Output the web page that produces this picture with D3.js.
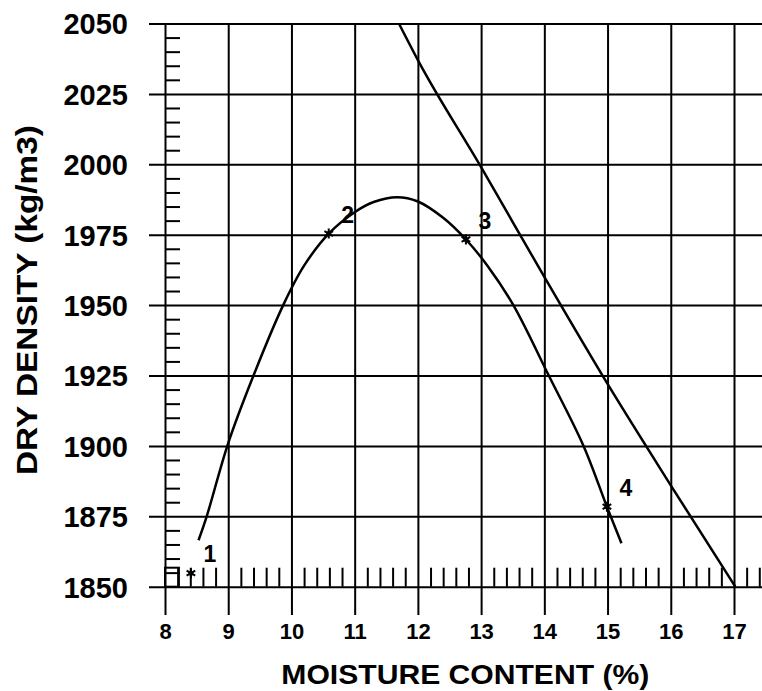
<!DOCTYPE html>
<html lang="en">
<head>
  <meta charset="UTF-8">
  <title>Compaction curve</title>
  <style>
    html, body {
      background: #fff;
      margin: 0px;
      overflow: hidden;
    }
    svg text {
      font-family: "Liberation Sans", Arial, Helvetica, sans-serif;
      font-weight: bold;
      fill: #000;
    }
  </style>
</head>
<body>
<div id="container"></div>
<script src="https://cdnjs.cloudflare.com/ajax/libs/d3/7.8.5/d3.min.js"></script>
<script>
    // x ticks / y ticks
    var xTicks = [8, 9, 10, 11, 12, 13, 14, 15, 16, 17];
    var yTicks = [1850, 1875, 1900, 1925, 1950, 1975, 2000, 2025, 2050];

    // compaction curve
    var curveMoisture = [8.53, 8.66, 9.0, 9.4, 9.87, 10.2, 10.59, 11.0, 11.3, 11.67, 12.0, 12.4, 12.76, 13.1, 13.51, 14.07, 14.62, 14.99, 15.22];
    var curveDensity  = [1866.5, 1875, 1901, 1925, 1950, 1964, 1975.4, 1983, 1986.6, 1988.3, 1986.8, 1981, 1973.3, 1964, 1950, 1925, 1900, 1878.4, 1865.4];

    // zero air voids line
    var zavMoisture = [11.7, 12, 13, 14, 15, 16, 17.02];
    var zavDensity  = [2050, 2037, 1999, 1960, 1922, 1886, 1850];

    // test points
    var pointLabels   = ["1", "2", "3", "4"];
    var pointMoisture = [8.41, 10.59, 12.76, 14.99];
    var pointDensity  = [1854.8, 1975.4, 1973.3, 1878.4];

    var width = 762, height = 691;

    var svg = d3.select('#container').append('svg')
      .attr('width', width)
      .attr('height', height);

    var x = d3.scaleLinear().domain([8, 17]).range([165, 734]);
    var y = d3.scaleLinear().domain([1850, 2050]).range([586.7, 23.5]);

    var gridLeft = 149, gridBottom = 615;

    // horizontal grid + y labels
    var yAxis = svg.append('g')
      .attr('transform', 'translate(' + gridLeft + ',0)')
      .call(d3.axisLeft(y).tickValues(yTicks).tickSize(-(width - gridLeft)).tickPadding(21).tickFormat(d3.format('d')));
    yAxis.select('.domain').remove();
    yAxis.selectAll('.tick line').attr('stroke', '#000').attr('stroke-width', 2);
    yAxis.selectAll('.tick text').style('font-size', '29px').attr('dy', '0.36em');

    // vertical grid + x labels
    var xAxis = svg.append('g')
      .attr('transform', 'translate(0,' + gridBottom + ')')
      .call(d3.axisBottom(x).tickValues(xTicks).tickSize(-(gridBottom - y(2050))).tickPadding(8).tickFormat(d3.format('d')));
    xAxis.select('.domain').remove();
    xAxis.selectAll('.tick line').attr('stroke', '#000').attr('stroke-width', 2);
    xAxis.selectAll('.tick text').style('font-size', '22px');

    // minor ticks on the y axis (every 5)
    var yMinor = d3.range(1855, 2050, 5).filter(d => d % 25 !== 0);
    var yMinorAxis = svg.append('g')
      .attr('transform', 'translate(' + x(8) + ',0)')
      .call(d3.axisRight(y).tickValues(yMinor).tickSize(15).tickFormat(''));
    yMinorAxis.select('.domain').remove();
    yMinorAxis.selectAll('.tick line').attr('stroke', '#000').attr('stroke-width', 2);

    // minor ticks on the x axis (every 0.2)
    var xMinor = d3.range(8.2, 17.5, 0.2).filter(d => Math.abs(d - Math.round(d)) > 0.01);
    var xMinorAxis = svg.append('g')
      .attr('transform', 'translate(0,' + y(1850) + ')')
      .call(d3.axisTop(x).tickValues(xMinor).tickSize(19).tickFormat(''));
    xMinorAxis.select('.domain').remove();
    xMinorAxis.selectAll('.tick line').attr('stroke', '#000').attr('stroke-width', 2);

    // small box in the corner
    svg.append('rect')
      .attr('x', x(8))
      .attr('y', y(1850) - 19)
      .attr('width', x(8.22) - x(8))
      .attr('height', 19)
      .attr('fill', 'none')
      .attr('stroke', '#000')
      .attr('stroke-width', 2);

    var line = d3.line()
      .x(d => x(d[0]))
      .y(d => y(d[1]));

    var curveData = curveMoisture.map((m, i) => [m, curveDensity[i]]);
    var zavData = zavMoisture.map((m, i) => [m, zavDensity[i]]);

    svg.append('path')
      .datum(curveData)
      .attr('d', line.curve(d3.curveCatmullRom))
      .attr('fill', 'none')
      .attr('stroke', '#000')
      .attr('stroke-width', 2.5);

    svg.append('path')
      .datum(zavData)
      .attr('d', line.curve(d3.curveMonotoneX))
      .attr('fill', 'none')
      .attr('stroke', '#000')
      .attr('stroke-width', 2.5);

    // points
    var pts = pointLabels.map((l, i) => ({ label: l, m: pointMoisture[i], d: pointDensity[i] }));
    var star = d3.symbol().type(d3.symbolAsterisk).size(70);

    svg.selectAll('.pt-dot')
      .data(pts)
      .enter()
      .append('circle')
      .classed('pt-dot', true)
      .attr('cx', d => x(d.m))
      .attr('cy', d => y(d.d))
      .attr('r', 2.5)
      .attr('fill', '#000');

    svg.selectAll('.pt')
      .data(pts)
      .enter()
      .append('path')
      .classed('pt', true)
      .attr('transform', d => 'translate(' + x(d.m) + ',' + y(d.d) + ')')
      .attr('d', star)
      .attr('fill', 'none')
      .attr('stroke', '#000')
      .attr('stroke-width', 2);

    svg.selectAll('.pt-label')
      .data(pts)
      .enter()
      .append('text')
      .classed('pt-label', true)
      .attr('x', d => x(d.m) + 19)
      .attr('y', d => y(d.d) - 19)
      .attr('dy', '0.36em')
      .attr('text-anchor', 'middle')
      .style('font-size', '23px')
      .text(d => d.label);

    // axis titles
    svg.append('text')
      .attr('x', (x(9.8) + x(15.7)) / 2)
      .attr('y', 684)
      .attr('text-anchor', 'middle')
      .attr('textLength', 368)
      .attr('lengthAdjust', 'spacingAndGlyphs')
      .style('font-size', '28px')
      .text('MOISTURE CONTENT (%)');

    svg.append('text')
      .attr('transform', 'translate(37,300) rotate(-90)')
      .attr('text-anchor', 'middle')
      .attr('textLength', 350)
      .attr('lengthAdjust', 'spacingAndGlyphs')
      .style('font-size', '29px')
      .text('DRY DENSITY (kg/m3)');
</script>
</body>
</html>
